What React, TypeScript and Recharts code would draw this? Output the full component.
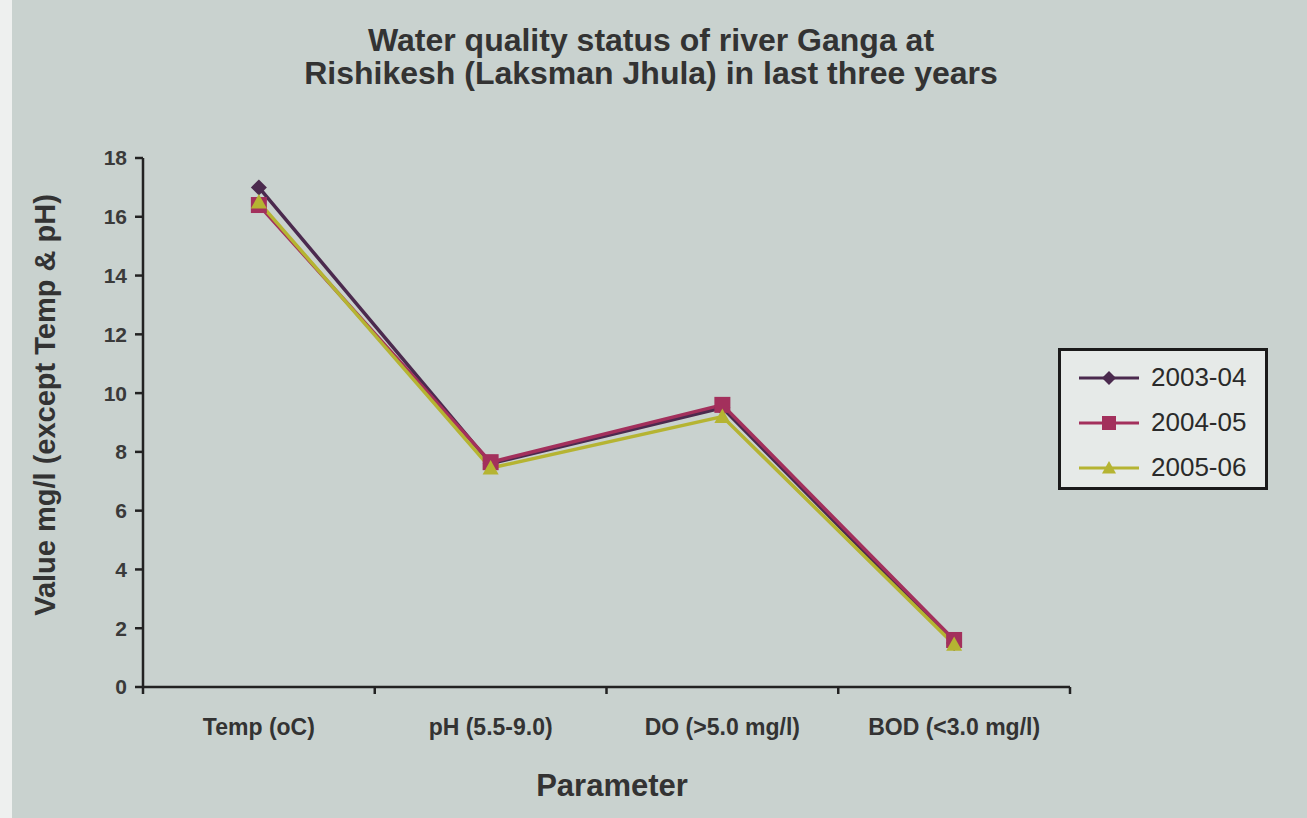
import React from 'react';
import { LineChart, Line, XAxis, YAxis } from 'recharts';

const PARAMETERS = ['Temp (oC)', 'pH (5.5-9.0)', 'DO (>5.0 mg/l)', 'BOD (<3.0 mg/l)'];
const Y2003 = [17.0, 7.6, 9.5, 1.5];
const Y2004 = [16.4, 7.65, 9.6, 1.6];
const Y2005 = [16.5, 7.45, 9.2, 1.45];
const Y_TICKS = [0, 2, 4, 6, 8, 10, 12, 14, 16, 18];

const SERIES = [
  { key: 'y2003', name: '2003-04', color: '#4b2a4e', shape: 'diamond' },
  { key: 'y2004', name: '2004-05', color: '#a3305c', shape: 'square' },
  { key: 'y2005', name: '2005-06', color: '#b5b432', shape: 'triangle' },
];

const data = PARAMETERS.map((p, i) => ({
  x: i + 0.5,
  name: p,
  y2003: Y2003[i],
  y2004: Y2004[i],
  y2005: Y2005[i],
}));

const FONT = '"Liberation Sans", Arial, sans-serif';

const Marker = ({ cx, cy, shape, color, s = 8 }: any) => {
  if (cx == null || cy == null) return null;
  if (shape === 'diamond') {
    return (
      <polygon
        points={`${cx},${cy - s} ${cx + s},${cy} ${cx},${cy + s} ${cx - s},${cy}`}
        fill={color}
      />
    );
  }
  if (shape === 'square') {
    return <rect x={cx - s} y={cy - s} width={s * 2} height={s * 2} fill={color} />;
  }
  return (
    <polygon
      points={`${cx},${cy - s} ${cx + s},${cy + s * 0.8} ${cx - s},${cy + s * 0.8}`}
      fill={color}
    />
  );
};

const LegendBox = () => (
  <div
    style={{
      position: 'absolute',
      left: 1058 - 12,
      top: 348,
      width: 210,
      height: 142,
      border: '3px solid #1a1a1a',
      background: '#e6eae8',
      boxSizing: 'border-box',
      padding: '4px 0 0 18px',
    }}
  >
    {SERIES.map((s) => (
      <div key={s.key} style={{ display: 'flex', alignItems: 'center', height: 45 }}>
        <svg width={60} height={20}>
          <line x1={0} y1={10} x2={60} y2={10} stroke={s.color} strokeWidth={3} />
          <Marker cx={30} cy={10} shape={s.shape} color={s.color} s={7} />
        </svg>
        <span style={{ fontFamily: FONT, fontSize: 26, color: '#2a2a2a', marginLeft: 12 }}>
          {s.name}
        </span>
      </div>
    ))}
  </div>
);

export default function App() {
  return (
    <div
      style={{
        position: 'absolute',
        left: 0,
        top: 0,
        width: 1307,
        height: 818,
        background: '#c9d2cf',
        borderLeft: '12px solid #eef0ef',
        boxSizing: 'border-box',
        overflow: 'hidden',
      }}
    >
      <div
        style={{
          position: 'absolute',
          left: 0,
          top: 24,
          width: 1278,
          textAlign: 'center',
          fontFamily: FONT,
          fontWeight: 'bold',
          fontSize: 32,
          lineHeight: '33px',
          color: '#333',
        }}
      >
        Water quality status of river Ganga at
        <br />
        Rishikesh (Laksman Jhula) in last three years
      </div>
      <div
        style={{
          position: 'absolute',
          left: 45 - 12 - 300,
          top: 405 - 17,
          width: 600,
          textAlign: 'center',
          transform: 'rotate(-90deg)',
          fontFamily: FONT,
          fontWeight: 'bold',
          fontSize: 29,
          lineHeight: '34px',
          color: '#333',
        }}
      >
        Value mg/l (except Temp &amp; pH)
      </div>
      <div
        style={{
          position: 'absolute',
          left: 612 - 12 - 150,
          top: 768,
          width: 300,
          textAlign: 'center',
          fontFamily: FONT,
          fontWeight: 'bold',
          fontSize: 31,
          color: '#333',
        }}
      >
        Parameter
      </div>
      <LegendBox />
      <div style={{ position: 'absolute', left: -12, top: 0 }}>
        <LineChart
          width={1307}
          height={818}
          data={data}
          margin={{ top: 158, right: 237, left: 55, bottom: 81 }}
        >
          <XAxis
            xAxisId="a"
            dataKey="x"
            type="number"
            domain={[0, 4]}
            ticks={[0, 1, 2, 3, 4]}
            tickFormatter={() => ''}
            height={10}
            stroke="#222"
            strokeWidth={2.5}
            tickSize={7}
          />
          <XAxis
            xAxisId="b"
            dataKey="x"
            type="number"
            domain={[0, 4]}
            ticks={[0.5, 1.5, 2.5, 3.5]}
            tickFormatter={(v: number) => PARAMETERS[Math.floor(v)]}
            axisLine={false}
            tickLine={false}
            height={40}
            tickMargin={16}
            tick={{ fontFamily: FONT, fontWeight: 'bold', fontSize: 23, fill: '#333' }}
          />
          <YAxis
            type="number"
            domain={[0, 18]}
            ticks={Y_TICKS}
            width={88}
            stroke="#222"
            strokeWidth={2.5}
            tickSize={8}
            tickMargin={8}
            tick={{ fontFamily: FONT, fontWeight: 'bold', fontSize: 21, fill: '#3a3a3a' }}
          />
          {SERIES.map((s) => (
            <Line
              key={s.key}
              xAxisId="a"
              dataKey={s.key}
              name={s.name}
              stroke={s.color}
              strokeWidth={3.5}
              isAnimationActive={false}
              dot={(p: any) => (
                <Marker key={`${s.key}-${p.index}`} cx={p.cx} cy={p.cy} shape={s.shape} color={s.color} />
              )}
              activeDot={false}
            />
          ))}
        </LineChart>
      </div>
    </div>
  );
}
